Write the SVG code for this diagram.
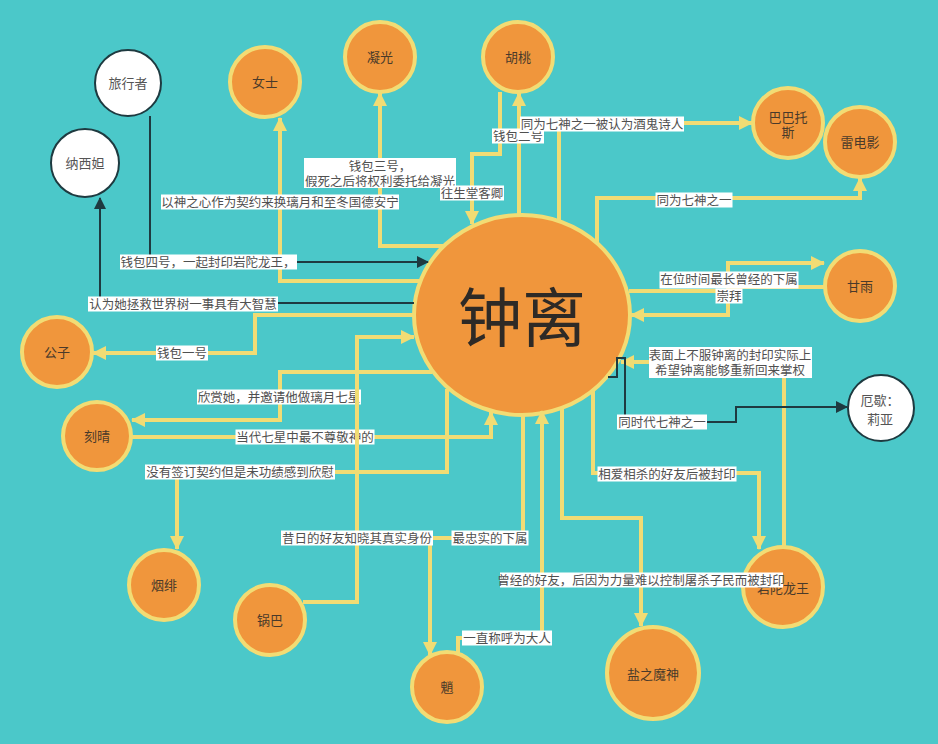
<svg xmlns="http://www.w3.org/2000/svg" width="938" height="744" viewBox="0 0 938 744">
<defs>
<style>
.bg{fill:#4bc8c9}
.on{fill:#f0963c;stroke:#f2dc74;stroke-width:4}
.wn{fill:#ffffff;stroke:#1e3a40;stroke-width:2}
.nt{font-family:"Noto Sans CJK SC","Noto Sans",sans-serif;font-size:13px;fill:#4a3a2a;text-anchor:middle}
.wt{font-family:"Noto Sans CJK SC","Noto Sans",sans-serif;font-size:13px;fill:#555555;text-anchor:middle}
.y{fill:none;stroke:#f1dc74;stroke-width:4;marker-end:url(#ay)}
.yn{fill:none;stroke:#f1dc74;stroke-width:4}
.d{fill:none;stroke:#1e3a40;stroke-width:2;marker-end:url(#ad)}
.lb{fill:#ffffff}
.lt{font-family:"Noto Sans CJK SC","Noto Sans",sans-serif;font-size:12.5px;fill:#505050;text-anchor:middle}
</style>
<marker id="ay" markerUnits="userSpaceOnUse" markerWidth="14" markerHeight="14" viewBox="0 0 14 14" refX="13" refY="7" orient="auto"><path d="M0,0 L14,7 L0,14 z" fill="#f1dc74"/></marker>
<marker id="ad" markerUnits="userSpaceOnUse" markerWidth="12" markerHeight="12" viewBox="0 0 12 12" refX="11" refY="6" orient="auto"><path d="M0,0 L12,6 L0,12 z" fill="#1e3a40"/></marker>
</defs>
<rect class="bg" x="0" y="0" width="938" height="744"/>

<g id="nodes">
<g id="n-zhongli"><ellipse class="on" cx="522" cy="315" rx="108" ry="100"/><text x="522" y="341" font-family="'Noto Sans CJK SC',sans-serif" font-size="64" fill="#2e2a26" text-anchor="middle">钟离</text></g>
<g id="n-lvxingzhe"><circle class="wn" cx="128" cy="83" r="33"/><text class="wt" x="128" y="88">旅行者</text></g>
<g id="n-naxida"><circle class="wn" cx="85" cy="163" r="34"/><text class="wt" x="85" y="168">纳西妲</text></g>
<g id="n-eli"><circle class="wn" cx="881" cy="408" r="33"/><text class="wt" x="880" y="405">厄歇：</text><text class="wt" x="880" y="424">莉亚</text></g>
<g id="n-nvshi"><circle class="on" cx="265" cy="82" r="35"/><text class="nt" x="265" y="87">女士</text></g>
<g id="n-ningguang"><circle class="on" cx="380" cy="57" r="35"/><text class="nt" x="380" y="62">凝光</text></g>
<g id="n-hutao"><circle class="on" cx="518" cy="57" r="35"/><text class="nt" x="518" y="62">胡桃</text></g>
<g id="n-babatuosi"><circle class="on" cx="788" cy="123" r="35"/><text class="nt" x="788" y="122">巴巴托</text><text class="nt" x="788" y="137">斯</text></g>
<g id="n-leidianying"><circle class="on" cx="860" cy="142" r="35"/><text class="nt" x="860" y="147">雷电影</text></g>
<g id="n-ganyu"><circle class="on" cx="860" cy="286" r="35"/><text class="nt" x="860" y="291">甘雨</text></g>
<g id="n-gongzi"><circle class="on" cx="57" cy="352" r="35"/><text class="nt" x="57" y="357">公子</text></g>
<g id="n-keqing"><circle class="on" cx="97" cy="436" r="34"/><text class="nt" x="97" y="441">刻晴</text></g>
<g id="n-yanfei"><circle class="on" cx="164" cy="585" r="35"/><text class="nt" x="164" y="590">烟绯</text></g>
<g id="n-guoba"><circle class="on" cx="270" cy="620" r="35"/><text class="nt" x="270" y="625">锅巴</text></g>
<g id="n-xiao"><circle class="on" cx="447" cy="687" r="35"/><text class="nt" x="447" y="692">魈</text></g>
<g id="n-yanzhimoshen"><circle class="on" cx="653" cy="673" r="46"/><text class="nt" x="653" y="679" font-size="14">盐之魔神</text></g>
<g id="n-yantuolongwang"><circle class="on" cx="783" cy="587" r="40"/><text class="nt" x="783" y="593">岩陀龙王</text></g>
</g>

<g id="connectors">
<path class="y" d="M420 281 H280 V118"/>
<path class="y" d="M443 246 H380 V93"/>
<path class="y" d="M500 92 V154 H472 V224"/>
<path class="y" d="M519 215 V93"/>
<path class="y" d="M559 220 V123 H752"/>
<path class="y" d="M597 242 V198 H860 V178"/>
<path class="y" d="M629 291 H728 V263 H824"/>
<path class="y" d="M825 287 H728 V315 H631"/>
<path class="y" d="M784 547 V362 H621"/>
<path class="y" d="M593 391 V473 H759 V549"/>
<path class="y" d="M562 409 V518 H641 V626"/>
<path class="y" d="M458 653 V638 H542 V411"/>
<path class="y" d="M523 415 V538 H430 V655"/>
<path class="y" d="M131 437 H491 V412"/>
<path class="y" d="M432 372 H280 V420 H132"/>
<path class="y" d="M447 389 V472 H177 V549"/>
<path class="y" d="M414 315 H255 V353 H93"/>
<path class="d" d="M414 303 H100 V198"/>
<path class="d" d="M150 116 V262 H428"/>
<path class="d" d="M608 377 H617 V358 H625 V422 H736 V407 H847"/>

<rect class="lb" x="161" y="194.5" width="238" height="15"/><text class="lt" x="280" y="206.5">以神之心作为契约来换璃月和至冬国德安宁</text>
<rect class="lb" x="304" y="158" width="152" height="30"/><text class="lt" x="380" y="170.5">钱包三号，</text><text class="lt" x="380" y="185.5">假死之后将权利委托给凝光</text>
<rect class="lb" x="440" y="185.5" width="64" height="15"/><text class="lt" x="472" y="197.5">往生堂客卿</text>
<rect class="lb" x="492" y="128.5" width="52" height="15"/><text class="lt" x="518" y="140.5">钱包二号</text>
<rect class="lb" x="520" y="116.5" width="164" height="15"/><text class="lt" x="602" y="128.5">同为七神之一被认为酒鬼诗人</text>
<rect class="lb" x="655.5" y="192.5" width="77" height="15"/><text class="lt" x="694" y="204.5">同为七神之一</text>
<rect class="lb" x="715.5" y="288.5" width="27" height="15"/><text class="lt" x="729" y="300.5">崇拜</text>
<rect class="lb" x="659.5" y="271.5" width="139" height="17"/><text class="lt" x="729" y="283.5">在位时间最长曾经的下属</text>
<rect class="lb" x="649" y="347" width="163" height="31"/><text class="lt" x="730" y="359.5">表面上不服钟离的封印实际上</text><text class="lt" x="730" y="374.5">希望钟离能够重新回来掌权</text>
<rect class="lb" x="597.5" y="466.5" width="139" height="15"/><text class="lt" x="667" y="478.5">相爱相杀的好友后被封印</text>
<rect class="lb" x="500" y="572.5" width="283" height="15"/><text class="lt" x="641" y="584.5">曾经的好友，后因为力量难以控制屠杀子民而被封印</text>
<rect class="lb" x="462" y="630.5" width="90" height="15"/><text class="lt" x="507" y="642.5">一直称呼为大人</text>
<rect class="lb" x="451.5" y="530.5" width="77" height="15"/><text class="lt" x="490" y="542.5">最忠实的下属</text>
<rect class="lb" x="235.5" y="429.5" width="139" height="15"/><text class="lt" x="305" y="441.5">当代七星中最不尊敬神的</text>
<rect class="lb" x="197" y="389.5" width="164" height="15"/><text class="lt" x="279" y="401.5">欣赏她，并邀请他做璃月七星</text>
<rect class="lb" x="145" y="464.5" width="190" height="15"/><text class="lt" x="240" y="476.5">没有签订契约但是未功绩感到欣慰</text>
<rect class="lb" x="156" y="345.5" width="52" height="15"/><text class="lt" x="182" y="357.5">钱包一号</text>
<rect class="lb" x="88" y="296.5" width="190" height="15"/><text class="lt" x="183" y="308.5">认为她拯救世界树一事具有大智慧</text>
<rect class="lb" x="120" y="254.5" width="177" height="15"/><text class="lt" x="208" y="266.5">钱包四号，一起封印岩陀龙王，</text>
<rect class="lb" x="617" y="414.5" width="90" height="15"/><text class="lt" x="662" y="426.5">同时代七神之一</text>

<path class="y" d="M303 602 H357 V337 H414"/>
<rect class="lb" x="281" y="530.5" width="152" height="15"/><text class="lt" x="357" y="542.5">昔日的好友知晓其真实身份</text>
</g>
</svg>
